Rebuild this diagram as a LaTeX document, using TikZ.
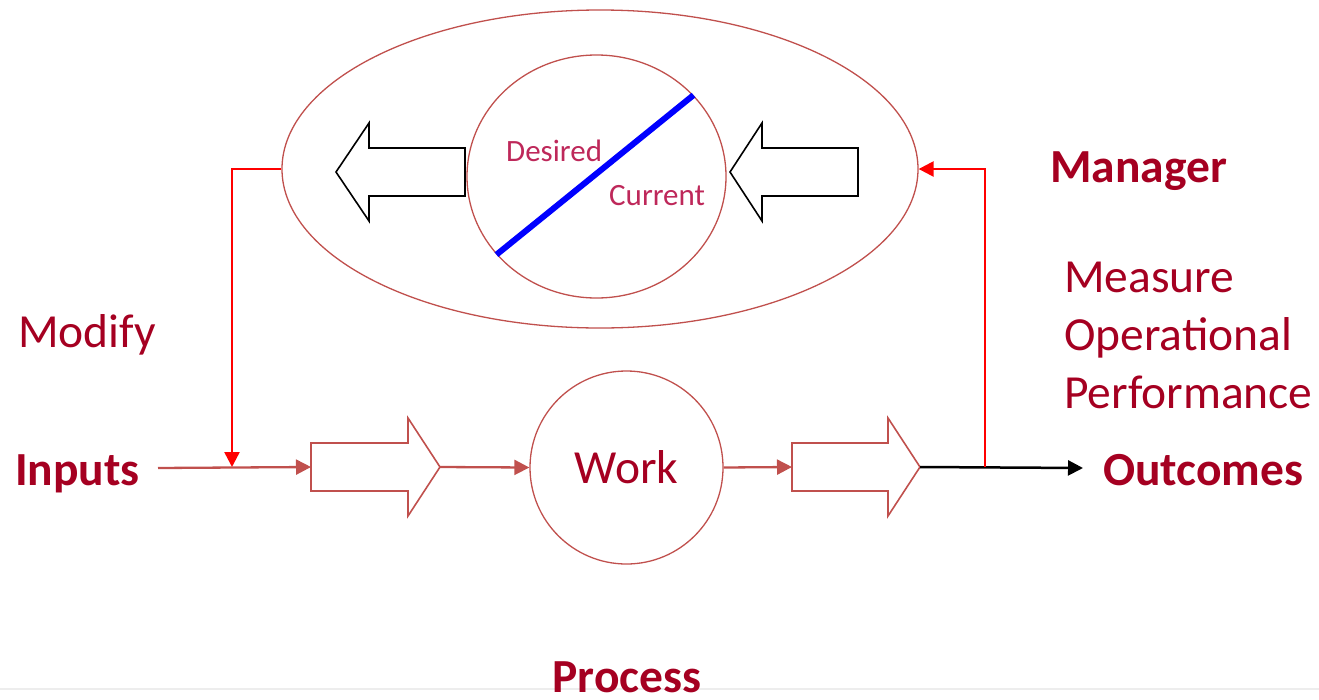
\documentclass[tikz,border=0pt]{standalone}
\usepackage{fontspec}
\setmainfont{Carlito}
\usepackage{tikz}
\usetikzlibrary{calc}
\usetikzlibrary{shapes}
\usetikzlibrary{arrows.meta}
\definecolor{linered}{RGB}{192,80,77}
\definecolor{textred}{RGB}{165,0,33}
\definecolor{gaugered}{RGB}{190,40,90}
\newcommand{\blockarrow}[6]{ \draw[line width=1.6pt, line join=miter, draw=#6] ( #2 , #5 - 24 ) -- ( #3 , #5 - 24 ) -- ( #3 , #5 - 49 ) -- ( #4 , #5 ) -- ( #3 , #5 + 49 ) -- ( #3 , #5 + 24 ) -- ( #2 , #5 + 24 ) -- cycle; \coordinate (#1-tail) at ( #2 , #5 ); \coordinate (#1-tip) at ( #4 , #5 );}

\begin{document}
\begin{tikzpicture}[x=1pt,y=-1pt,
    txt/.style={inner sep=0pt, text=textred, font=\fontsize{47.5}{58}\selectfont},
    boldtxt/.style={inner sep=0pt, text=textred, font=\fontsize{47.5}{58}\selectfont\bfseries},
    flow/.style={draw=linered, line width=2.3pt, -{Triangle[length=15pt,width=15pt]}},
    feedback/.style={draw=red, line width=2.5pt, -{Triangle[length=15pt,width=15pt]}}]
    \useasboundingbox ( 0 , 0 ) rectangle ( 1319 , 699 );
    \draw[draw=black!7, line width=1.5pt] ( 0 , 689 ) -- ( 1319 , 689 );
    % manager
    \node[shape=ellipse, draw=linered, line width=1.3pt, inner sep=0pt, minimum width=636pt, minimum height=318pt] (manager) at ( 600 , 169 ){};
    \node[shape=ellipse, draw=linered, line width=1.3pt, inner sep=0pt, minimum width=259pt, minimum height=243pt] (gauge) at ( 596.5 , 176.5 ){};
    \draw[draw=blue, line width=6pt] (gauge.218) -- (gauge.40);
    \node[inner sep=0pt, anchor=base west, text=gaugered, font=\fontsize{31}{37}\selectfont] (desired) at ( 506 , 161 ){Desired};
    \node[inner sep=0pt, anchor=base west, text=gaugered, font=\fontsize{31}{37}\selectfont] (current) at ( 609 , 205 ){Current};
    \blockarrow{gapin}{858}{762}{730}{172}{black}
    \blockarrow{gapout}{465}{369}{336}{172}{black}
    % process
    \node[shape=circle, draw=linered, line width=1.3pt, inner sep=0pt, minimum size=193pt, txt] (work) at ( 626.5 , 467.5 ){Work};
    \blockarrow{feed}{311}{408}{440}{467}{linered}
    \blockarrow{yield}{792}{888}{920}{467}{linered}
    \coordinate (in) at ( 158 , 468 );
    \coordinate (join) at ( 232 , 467 );
    \coordinate (split) at ( 985 , 467 );
    \coordinate (out) at ( 1083 , 468 );
    \draw[flow] (in) -- (feed-tail);
    \draw[flow] (feed-tip) -- (work.west);
    \draw[flow] (work.east) -- (yield-tail);
    \draw[line width=2.5pt, -{Triangle[length=15pt,width=15pt]}] (yield-tip) -- (out);
    % loop
    \draw[feedback] (manager.west) -| (join);
    \draw[feedback] (split) |- (manager.east);
    % text
    \node[boldtxt, anchor=base west] (inputs) at ( 15 , 485 ){Inputs};
    \node[boldtxt, anchor=base west] (outcomes) at ( 1103 , 485 ){Outcomes};
    \node[boldtxt, anchor=base west] (managertxt) at ( 1050 , 182 ){Manager};
    \node[boldtxt, anchor=base] (process) at ( 627 , 692 ){Process};
    \node[txt, anchor=base west] (modify) at ( 18 , 347 ){Modify};
    \node[txt, anchor=north west, align=left] (measure) at ( 1064 , 262 ){Measure\\Operational\\Performance};
\end{tikzpicture}
\end{document}
